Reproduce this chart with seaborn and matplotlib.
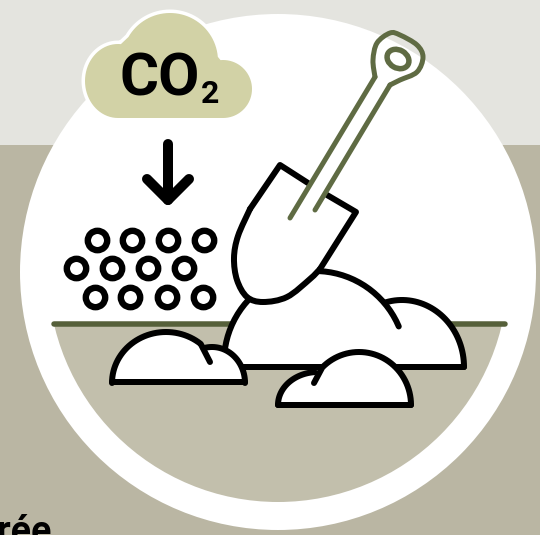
import matplotlib
matplotlib.use("Agg")
import matplotlib.pyplot as plt
import numpy as np
import pandas as pd
import seaborn as sns
from matplotlib.path import Path
from matplotlib.patches import Circle, PathPatch, Rectangle, Ellipse, Polygon

sns.set_theme(style="white")
plt.rcParams['font.family'] = ['Roboto', 'DejaVu Sans']

PX = 0.72
LW = 6.0
TOP_BG, LOW_BG, GROUND, GREEN, SAGE, CLOUD = "#E4E4DF", "#BAB6A3", "#C2BFAC", "#56603A", "#5F6B43", "#D2D2A6"

bubble_x = [97, 132, 168, 204, 76, 112, 148, 184, 95, 130, 167, 203]
bubble_y = [240, 240, 240, 240, 268, 268, 268, 268, 297, 297, 297, 297]
ground_x = [54, 505]
ground_y = [324, 324]
shaft_x = [168, 168]
shaft_y = [144, 200]
head_x = [147, 168, 189]
head_y = [179, 200, 179]

blade_round = [(320, 269), (310, 279), (287, 297), (263, 302), (247, 297), (237, 280), (234, 258), (238, 236), (250, 209)]
loop = [(375, 77), (373, 60), (377, 43), (390, 33), (400, 35), (417, 45), (423, 57), (417, 72), (400, 80), (390, 85)]


def smooth(points):
    p = np.array(points, float)
    q = np.vstack([p[0], p, p[-1]])
    verts, codes = [p[0]], [Path.MOVETO]
    for i in range(1, len(q) - 2):
        verts += [q[i] + (q[i + 1] - q[i - 1]) / 6, q[i + 1] - (q[i + 2] - q[i]) / 6, q[i + 1]]
        codes += [Path.CURVE4] * 3
    return Path(verts, codes)


def arc(cx, cy, rx, ry, a0, a1):
    t = np.radians(np.linspace(a0, a1, 40))
    return np.column_stack([cx + rx * np.cos(t), cy - ry * np.sin(t)])


def line(ax, pts, color="black", lw=LW, z=5):
    pts = np.asarray(pts, float)
    df = pd.DataFrame({"x": pts[:, 0], "y": pts[:, 1]})
    sns.lineplot(data=df, x="x", y="y", ax=ax, color=color, lw=lw * PX, solid_capstyle="round",
                 solid_joinstyle="round", zorder=z, sort=False, estimator=None, errorbar=None)


fig = plt.figure(figsize=(5.4, 5.35), dpi=100)
ax = fig.add_axes([0, 0, 1, 1])

# Background and medallion
ax.add_patch(Rectangle((0, 0), 540, 145, fc=TOP_BG, ec="none", zorder=0))
ax.add_patch(Rectangle((0, 145), 540, 390, fc=LOW_BG, ec="none", zorder=0))
ax.add_patch(Circle((278, 272), 258, fc="white", ec="none", zorder=1))
g = Circle((278, 272), 230, fc=GROUND, ec="none", zorder=1.5)
ax.add_patch(g)
g.set_clip_path(Rectangle((0, 324), 540, 211, transform=ax.transData))

# Cloud: left lobe, dome, right lobe, flat base
cloud_poly = np.vstack([arc(118, 81, 33, 37, 270, 85), arc(170, 61, 48, 48, 150, 5), arc(223, 89, 29, 29, 95, -90)])
ax.add_patch(Polygon(cloud_poly, closed=True, fc=CLOUD, ec="white", lw=7 * PX, joinstyle="round", zorder=2))
ax.add_patch(Polygon(cloud_poly, closed=True, fc=CLOUD, ec="none", zorder=2.1))
ax.text(120, 96, "CO", fontsize=43, fontweight="bold", color="black", ha="left", va="baseline", zorder=3)
ax.text(201, 103, "2", fontsize=23, fontweight="bold", color="black", ha="left", va="baseline", zorder=3)

# Ground line, arrow, bubbles
line(ax, list(zip(ground_x, ground_y)), color=GREEN, lw=5.5, z=2)
line(ax, list(zip(shaft_x, shaft_y)), lw=10, z=4)
line(ax, list(zip(head_x, head_y)), lw=10, z=4)
sns.scatterplot(x=bubble_x, y=bubble_y, ax=ax, s=195, facecolor="white", edgecolor="black", linewidth=4.6, zorder=4, legend=False)

# Big mound
big_curve = arc(315, 362, 91, 91, 171, 23)
big_hump = arc(402, 367, 62, 67, 105, 0)
big_fill = np.vstack([arc(315, 362, 91, 91, 171, 60), big_hump, [(226, 367)]])
ax.add_patch(Polygon(big_fill, closed=True, fc="white", ec="none", zorder=3))
line(ax, big_curve, z=3.2)
line(ax, big_hump, z=3.2)
line(ax, [(233, 367), (464, 367)], z=3.2)

# Left mound
la = arc(166, 383, 54, 51, 180, 50)
lb = arc(212, 383, 33, 36, 105, 0)
ax.add_patch(Polygon(np.vstack([la, lb]), closed=True, fc="white", ec="none", zorder=3.5))
line(ax, np.vstack([la, [(210, 362)]]), z=3.6)
line(ax, lb, z=3.6)
line(ax, [(112, 382), (245, 382)], z=3.7)

# Right mound
ra = arc(359, 405, 52, 53, 135, 0)
rb = arc(318, 405, 40, 33, 180, 95)
ax.add_patch(Polygon(np.vstack([rb, ra]), closed=True, fc="white", ec="none", zorder=3.5))
line(ax, np.vstack([[(314, 383)], ra]), z=3.6)
line(ax, rb, z=3.6)
line(ax, [(278, 405), (411, 405)], z=3.7)

# Shovel blade
blade_path = smooth(blade_round)
blade_poly = np.vstack([[(280, 165), (356, 212)], blade_path.to_polygons(closed_only=False)[0]])
ax.add_patch(Polygon(blade_poly, closed=True, fc="white", ec="none", zorder=5))
ax.add_patch(PathPatch(blade_path, fc="none", ec="black", lw=LW * PX, capstyle="round", zorder=5.1))
for seg in [[(250, 209), (280, 165), (308, 183)], [(327, 195), (356, 212), (320, 269)]]:
    line(ax, seg, z=5.1)

# Handle
line(ax, [(290, 218), (375, 77)], color=SAGE, lw=5, z=6)
line(ax, [(390, 85), (315, 210)], color=SAGE, lw=5, z=6)
ax.add_patch(PathPatch(smooth(loop), fc="none", ec=SAGE, lw=5 * PX, capstyle="round", zorder=6))
ax.add_patch(Ellipse((398, 59), 23, 18, angle=30, fc="none", ec=SAGE, lw=5.5 * PX, zorder=6))

ax.text(-3, 543, "rée", fontsize=27, fontweight="bold", color="black", ha="left", va="baseline", zorder=3, clip_on=True)

ax.set_xlim(0, 540)
ax.set_ylim(535, 0)
ax.axis("off")
fig.savefig("out.png", dpi=100)
